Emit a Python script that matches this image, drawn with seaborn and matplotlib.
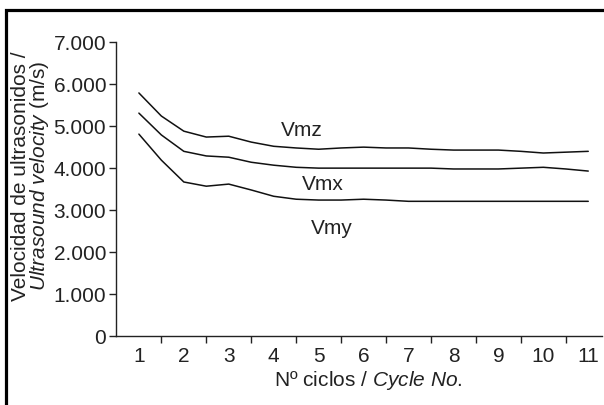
import matplotlib
matplotlib.use("Agg")
import matplotlib.pyplot as plt
import matplotlib.ticker as mticker
from matplotlib.patches import Rectangle
import numpy as np
import seaborn as sns
import pandas as pd

# ciclos (lectura cada medio ciclo)
ciclos = [1, 1.5, 2, 2.5, 3, 3.5, 4, 4.5, 5, 5.5, 6, 6.5, 7, 7.5, 8, 8.5, 9, 9.5, 10, 10.5, 11]
vmz = [5790, 5240, 4880, 4740, 4760, 4620, 4520, 4480, 4450, 4480, 4500, 4480, 4480, 4450,
       4430, 4430, 4430, 4400, 4360, 4380, 4400]
vmx = [5310, 4790, 4400, 4290, 4260, 4140, 4070, 4020, 4000, 4000, 4000, 4000, 4000, 4000,
       3980, 3980, 3980, 4000, 4020, 3980, 3930]
vmy = [4810, 4190, 3670, 3570, 3620, 3480, 3330, 3260, 3240, 3240, 3260, 3240, 3210, 3210,
       3210, 3210, 3210, 3210, 3210, 3210, 3210]
series = ["Vmz", "Vmx", "Vmy"]
etiquetas_x = ["1", "2", "3", "4", "5", "6", "7", "8", "9", "10", "11"]

datos = pd.DataFrame({
    "ciclo": ciclos * 3,
    "velocidad": vmz + vmx + vmy,
    "serie": [s for s in series for _ in ciclos],
})

sns.set_theme(style="ticks")
plt.rcParams["font.family"] = ["Liberation Sans", "DejaVu Sans"]
plt.rcParams["mathtext.fontset"] = "custom"
plt.rcParams["mathtext.rm"] = "Liberation Sans"
plt.rcParams["mathtext.it"] = "Liberation Sans:italic"
fs = 15

fig = plt.figure(figsize=(6.04, 4.05), dpi=100)
ax = fig.add_axes([0.192, 0.170, 0.805, 0.726])

sns.lineplot(data=datos, x="ciclo", y="velocidad", hue="serie",
             palette=["#111111"] * 3, linewidth=1.1, legend=False, ax=ax)

ax.set_xlim(0.49, 11.31)
ax.set_ylim(0, 7000)

# etiquetas en el centro, marcas entre ciclos
ax.set_xticks(np.arange(1.5, 11, 1))
ax.set_xticklabels([])
ax.set_xticks(range(1, 12), minor=True)
ax.set_xticklabels(etiquetas_x, minor=True)
ax.tick_params(axis="x", which="minor", length=0, labelsize=fs, pad=8, colors="#222222")
ax.tick_params(axis="x", which="major", length=5, width=1, direction="out", color="#222222")

ax.set_yticks(range(0, 8000, 1000))
ax.yaxis.set_major_formatter(mticker.FuncFormatter(
    lambda v, p: "0" if v == 0 else f"{int(v):,}".replace(",", ".")))
ax.tick_params(axis="y", length=5, width=1, labelsize=fs, pad=2, colors="#222222")

sns.despine(ax=ax)
for s in ["left", "bottom"]:
    ax.spines[s].set_color("#222222")
    ax.spines[s].set_linewidth(1.0)

ax.set_xlabel(r"Nº ciclos / $\it{Cycle\ No.}$", fontsize=fs, color="#222222", labelpad=2)
ax.set_ylabel("Velocidad de ultrasonidos /\n" + r"$\it{Ultrasound\ velocity}$ (m/s)",
              fontsize=fs, color="#222222", labelpad=2, linespacing=0.85)
ax.xaxis.label.set_x(0.518)
ax.yaxis.label.set_y(0.545)

ax.text(4.62, 4900, "Vmz", fontsize=fs, ha="center", va="center", color="#222222")
ax.text(5.1, 3620, "Vmx", fontsize=fs, ha="center", va="center", color="#222222")
ax.text(5.3, 2560, "Vmy", fontsize=fs, ha="center", va="center", color="#222222")

# marco del recuadro
fig.patches.append(Rectangle((6 / 604, -0.2), 1.5, 1.2 - 10 / 405,
                             transform=fig.transFigure, fill=False,
                             edgecolor="black", linewidth=2.3, zorder=10))

fig.savefig("out.png", dpi=100)
